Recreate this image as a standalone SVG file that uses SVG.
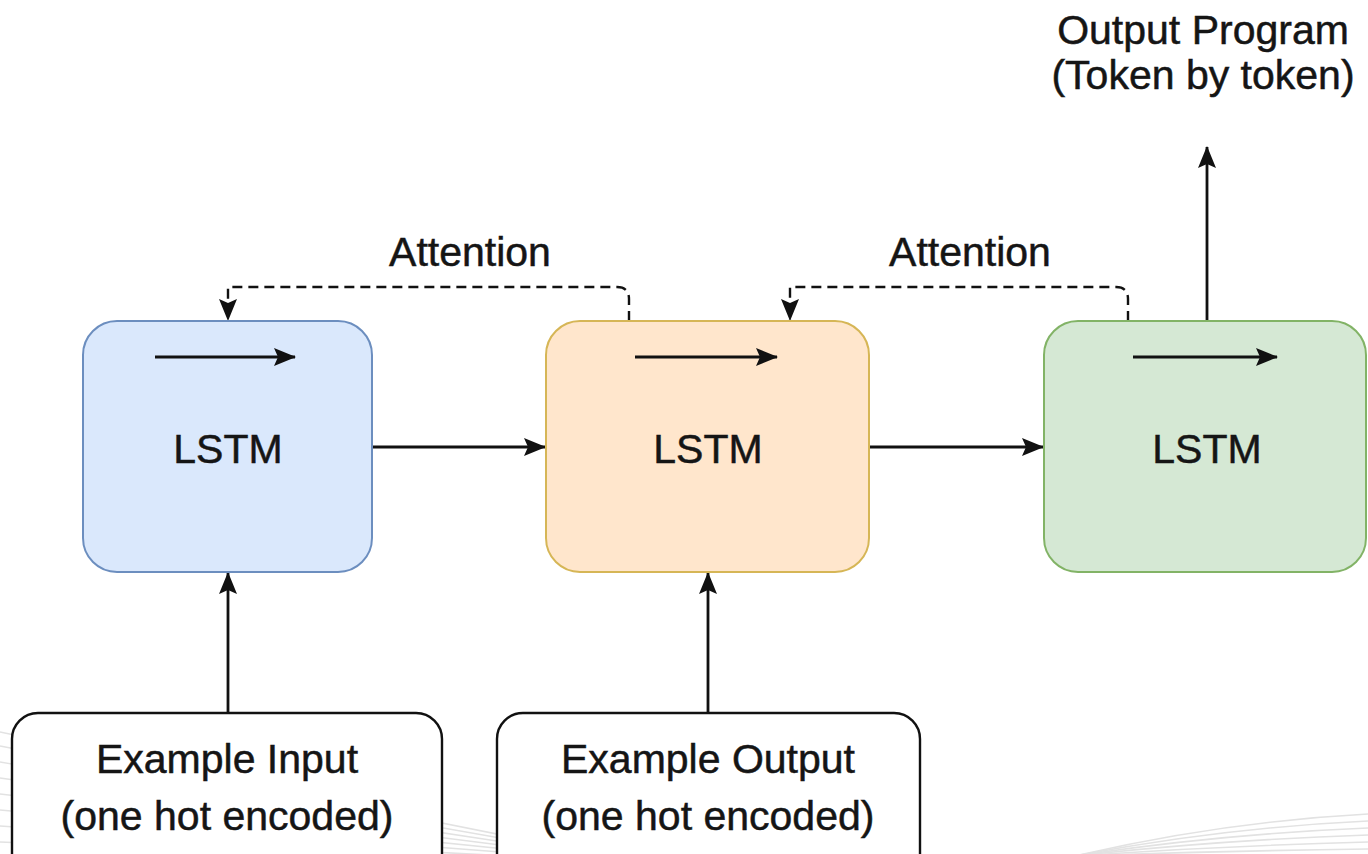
<svg xmlns="http://www.w3.org/2000/svg" width="1368" height="854" viewBox="0 0 1368 854">
  <defs>
    <marker id="arrow" viewBox="0 0 22 18" refX="21" refY="9" markerWidth="22" markerHeight="18" markerUnits="userSpaceOnUse" orient="auto">
      <path d="M0,0 L22,9 L0,18 L4,9 Z" fill="#111"/>
    </marker>
    <style>
      .lbl { font-family: "Liberation Sans", Arial, sans-serif; font-size: 41px; fill: #151515; stroke: #151515; stroke-width: 0.5; text-anchor: middle; }
      .edge { fill: none; stroke: #111; stroke-width: 2.8; }
      .dash { stroke-dasharray: 10 6; stroke-width: 2.4; }
      .lstm { stroke-width: 2; }
      .io { fill: #ffffff; stroke: #111; stroke-width: 2.4; }
      .swoosh { fill: none; stroke: #e2e2e2; stroke-width: 1.6; }
    </style>
  </defs>

  <rect width="1368" height="854" fill="#ffffff"/>

  <!-- faint background swooshes -->
  <g id="background">
    <path class="swoosh" d="M0,732 Q320,800 640,862"/>
    <path class="swoosh" d="M0,746 Q320,808 640,862"/>
    <path class="swoosh" d="M0,762 Q320,816 640,862"/>
    <path class="swoosh" d="M0,778 Q320,824 640,862"/>
    <path class="swoosh" d="M0,794 Q320,832 640,862"/>
    <path class="swoosh" d="M0,810 Q320,840 640,862"/>
    <path class="swoosh" d="M0,826 Q320,848 640,862"/>
    <path class="swoosh" d="M0,842 Q320,856 640,862"/>
    <path class="swoosh" d="M1075,856 Q1220,822 1368,814"/>
    <path class="swoosh" d="M1075,856 Q1220,828 1368,821"/>
    <path class="swoosh" d="M1075,856 Q1220,834 1368,828"/>
    <path class="swoosh" d="M1075,856 Q1220,840 1368,835"/>
    <path class="swoosh" d="M1075,856 Q1220,846 1368,842"/>
    <path class="swoosh" d="M1075,856 Q1220,851 1368,849"/>
  </g>

  <!-- connectors -->
  <g id="connectors">
    <path class="edge" d="M372,447 H545" marker-end="url(#arrow)"/>
    <path class="edge" d="M870,447 H1043" marker-end="url(#arrow)"/>
    <path class="edge" d="M228,713 V573" marker-end="url(#arrow)"/>
    <path class="edge" d="M708,713 V573" marker-end="url(#arrow)"/>
    <path class="edge" d="M1207,321 V147" marker-end="url(#arrow)"/>
    <path class="edge dash" d="M629,321 V299 Q629,287 617,287 H228 V320" marker-end="url(#arrow)"/>
    <path class="edge dash" d="M1128,321 V299 Q1128,287 1116,287 H790 V320" marker-end="url(#arrow)"/>
    <text class="lbl" x="470" y="266">Attention</text>
    <text class="lbl" x="970" y="266">Attention</text>
  </g>

  <g id="lstm-input">
    <rect class="lstm" x="83" y="321" width="289" height="251" rx="34" fill="#dae8fc" stroke="#6c8ebf"/>
    <path class="edge" d="M155,357 H295" marker-end="url(#arrow)"/>
    <text class="lbl" x="228" y="463">LSTM</text>
  </g>

  <g id="lstm-output">
    <rect class="lstm" x="546" y="321" width="323" height="251" rx="34" fill="#ffe6cc" stroke="#d6b656"/>
    <path class="edge" d="M635,357 H777" marker-end="url(#arrow)"/>
    <text class="lbl" x="708" y="463">LSTM</text>
  </g>

  <g id="lstm-program">
    <rect class="lstm" x="1044" y="321" width="322" height="251" rx="34" fill="#d5e8d4" stroke="#82b366"/>
    <path class="edge" d="M1133,357 H1277" marker-end="url(#arrow)"/>
    <text class="lbl" x="1207" y="463">LSTM</text>
  </g>

  <g id="example-input">
    <rect class="io" x="12" y="713" width="430" height="170" rx="26"/>
    <text class="lbl" x="227" y="773">Example Input</text>
    <text class="lbl" x="227" y="830">(one hot encoded)</text>
  </g>

  <g id="example-output">
    <rect class="io" x="497" y="713" width="423" height="170" rx="26"/>
    <text class="lbl" x="708" y="773">Example Output</text>
    <text class="lbl" x="708" y="830">(one hot encoded)</text>
  </g>

  <g id="output-program">
    <text class="lbl" x="1203" y="44">Output Program</text>
    <text class="lbl" x="1203" y="89">(Token by token)</text>
  </g>
</svg>
